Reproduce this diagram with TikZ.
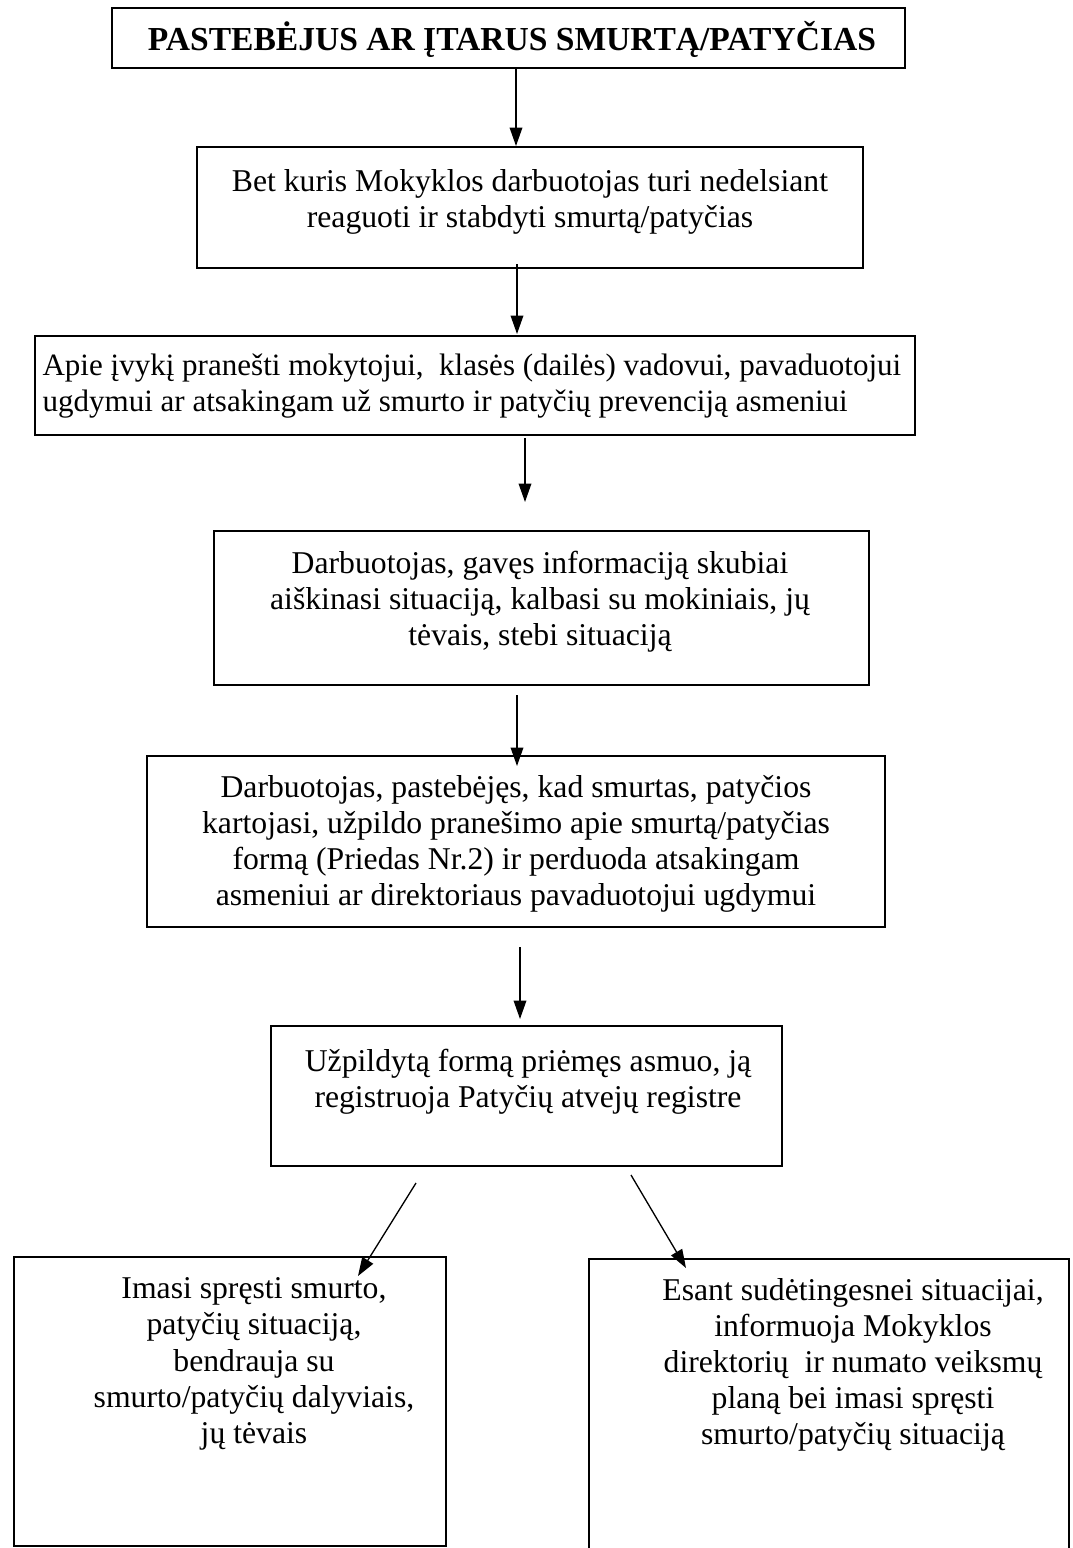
\documentclass[tikz,border=0pt]{standalone}
\usepackage{fontspec}
\setmainfont{Liberation Serif}
\usetikzlibrary{arrows.meta,fit}
\begin{document}
\begin{tikzpicture}[x=0.3785pt,y=-0.3785pt,
  box/.style={draw=black,line width=0.75pt,inner sep=0pt},
  txt/.style={inner sep=0pt,align=center,font=\fontsize{12pt}{13.7pt}\selectfont},
  arr/.style={line width=0.5pt,-{Triangle[length=7pt,width=4.8pt]}}]
\useasboundingbox (0,0) rectangle (1072,1548);
\clip (0,0) rectangle (1072,1548);
\fill[white] (0,0) rectangle (1072,1548);
% boxes
\node[box,fit={(112,8)(905,68)}] (b1) {};
\node[box,fit={(197,147)(863,268)}] (b2) {};
\node[box,fit={(35,336)(915,435)}] (b3) {};
\node[box,fit={(214,531)(869,685)}] (b4) {};
\node[box,fit={(147,756)(885,927)}] (b5) {};
\node[box,fit={(271,1026)(782,1166)}] (b6) {};
\node[box,fit={(14,1257)(446,1546)}] (b7) {};
\node[box,fit={(589,1259)(1069,1570)}] (b8) {};
% texts
\node[txt,font=\fontsize{12.7pt}{14pt}\selectfont\bfseries] (t1) at (512,39) {PASTEBĖJUS AR ĮTARUS SMURTĄ/PATYČIAS};
\node[txt] (t2) at (530,202) {Bet kuris Mokyklos darbuotojas turi nedelsiant\\reaguoti ir stabdyti smurtą/patyčias};
\node[txt,align=left,anchor=west,font=\fontsize{11.75pt}{13.5pt}\selectfont] (t3) at (42,386) {Apie įvykį pranešti mokytojui,\ \ klasės (dailės) vadovui, pavaduotojui\\ugdymui ar atsakingam už smurto ir patyčių prevenciją asmeniui};
\node[txt] (t4) at (540,602) {Darbuotojas, gavęs informaciją skubiai\\aiškinasi situaciją, kalbasi su mokiniais, jų\\tėvais, stebi situaciją};
\node[txt] (t5) at (516,844) {Darbuotojas, pastebėjęs, kad smurtas, patyčios\\kartojasi, užpildo pranešimo apie smurtą/patyčias\\formą (Priedas Nr.2) ir perduoda atsakingam\\asmeniui ar direktoriaus pavaduotojui ugdymui};
\node[txt] (t6) at (528,1082) {Užpildytą formą priėmęs asmuo, ją\\registruoja Patyčių atvejų registre};
\node[txt] (t7) at (254,1364) {Imasi spręsti smurto,\\patyčių situaciją,\\bendrauja su\\smurto/patyčių dalyviais,\\jų tėvais};
\node[txt] (t8) at (853,1365) {Esant sudėtingesnei situacijai,\\informuoja Mokyklos\\direktorių\ \ ir numato veiksmų\\planą bei imasi spręsti\\smurto/patyčių situaciją};
% connector ends
\coordinate (a1s) at (516,68);  \coordinate (a1e) at (516,146);
\coordinate (a2s) at (517,264); \coordinate (a2e) at (517,334);
\coordinate (a3s) at (525,438); \coordinate (a3e) at (525,502);
\coordinate (a4s) at (517,695); \coordinate (a4e) at (517,766);
\coordinate (a5s) at (520,947); \coordinate (a5e) at (520,1019);
\coordinate (a6s) at (416,1183); \coordinate (a6e) at (358,1276);
\coordinate (a7s) at (631,1175); \coordinate (a7e) at (686,1268);
\draw[arr] (a1s) -- (a1e);
\draw[arr] (a2s) -- (a2e);
\draw[arr] (a3s) -- (a3e);
\draw[arr] (a4s) -- (a4e);
\draw[arr] (a5s) -- (a5e);
\draw[arr] (a6s) -- (a6e);
\draw[arr] (a7s) -- (a7e);
\end{tikzpicture}
\end{document}
